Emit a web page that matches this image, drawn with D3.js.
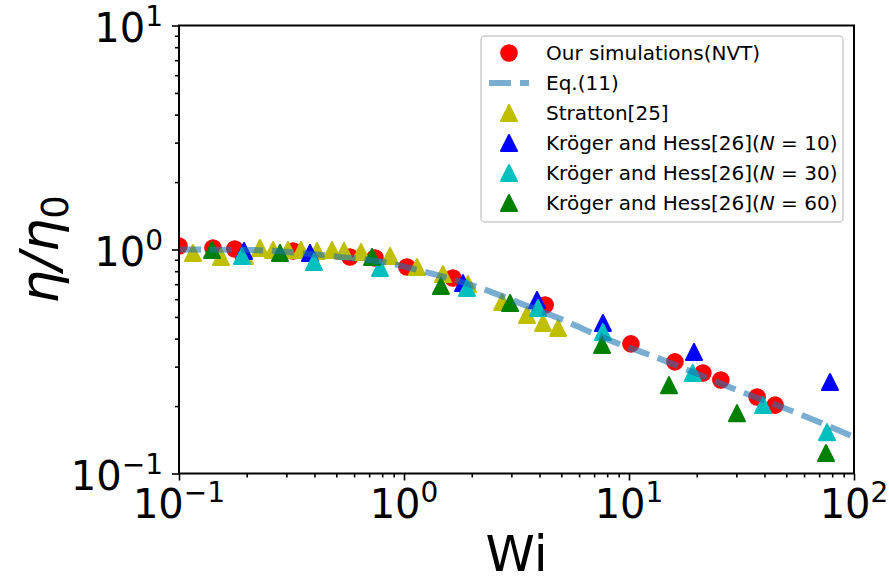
<!DOCTYPE html>
<html><head><meta charset="utf-8">
<script src="https://cdn.jsdelivr.net/npm/d3@7"></script>
<style>body{margin:0;background:#fff}svg{display:block}text{font-family:"DejaVu Sans",sans-serif}</style>
</head><body><svg id="c" width="889" height="583"></svg>
<script>
// ---- data ----
const simWi   = [0.1, 0.1416, 0.177, 0.321, 0.575, 0.743, 1.03, 1.65, 4.24, 10.2, 16.0, 21.3, 25.6, 37.1, 44.6];
const simEta  = [1.036, 1.016, 1.005, 0.985, 0.926, 0.917, 0.835, 0.746, 0.565, 0.379, 0.315, 0.281, 0.2615, 0.2197, 0.202];
const eqWi    = [0.1, 0.207, 0.345, 0.575, 0.807, 1.063, 1.40, 2.18, 3.63, 5.09, 6.71, 8.85, 12.4, 20.7, 31.1, 57.5, 100];
const eqEta   = [1.0, 0.995, 0.965, 0.917, 0.88, 0.827, 0.770, 0.673, 0.553, 0.485, 0.428, 0.382, 0.338, 0.275, 0.233, 0.184, 0.1455];
const strWi   = [0.1154, 0.1537, 0.1965, 0.229, 0.2618, 0.305, 0.3484, 0.4105, 0.4786, 0.541, 0.644, 0.867, 1.142, 1.49, 1.925, 2.73, 3.52, 4.15, 4.84];
const strEta  = [0.965, 0.926, 0.936, 1.016, 0.995, 0.995, 0.995, 0.985, 0.995, 0.985, 0.975, 0.936, 0.835, 0.777, 0.701, 0.583, 0.51, 0.47, 0.446];
const n10Wi   = [0.1945, 0.382, 1.829, 3.90, 7.66, 19.45, 78.2];
const n10Eta  = [0.985, 0.965, 0.708, 0.595, 0.47, 0.349, 0.256];
const n30Wi   = [0.1905, 0.398, 0.782, 1.905, 3.94, 7.66, 19.2, 39.4, 75.9];
const n30Eta  = [0.936, 0.88, 0.827, 0.673, 0.548, 0.428, 0.281, 0.202, 0.153];
const n60Wi   = [0.1402, 0.281, 0.721, 1.46, 2.96, 7.59, 15.06, 30.2, 75.1];
const n60Eta  = [0.995, 0.965, 0.926, 0.688, 0.577, 0.375, 0.248, 0.186, 0.1234];
const xMajor = [0.1, 1, 10, 100];
const xMajorExp = ["\u22121", "0", "1", "2"];
const yMajor = [0.1, 1, 10];
const yMajorExp = ["\u22121", "0", "1"];
const legendLabels = ["Our simulations(NVT)", "Eq.(11)", "Stratton[25]", "Kr\u00f6ger and Hess[26](", "Kr\u00f6ger and Hess[26](", "Kr\u00f6ger and Hess[26]("];
const legendN = [null, null, null, "10", "30", "60"];

// ---- layout ----
const L = 179, R = 854, T = 25.5, B = 473.5;
const svg = d3.select("#c");
const x = d3.scaleLog().domain([0.1, 100]).range([L, R]);
const y = d3.scaleLog().domain([0.1, 10]).range([B, T]);

const minorOf = dom => { const out = []; for (let e = Math.log10(dom[0]); e < Math.log10(dom[1]); e++) for (let k = 2; k <= 9; k++) out.push(k * Math.pow(10, e)); return out; };

// axes ticks
const gx = svg.append("g").attr("transform", `translate(0,${B})`);
gx.call(d3.axisBottom(x).tickValues(xMajor).tickSize(7).tickFormat(""));
gx.append("g").call(d3.axisBottom(x).tickValues(minorOf([0.1, 100])).tickSize(4).tickFormat(""));
const gy = svg.append("g").attr("transform", `translate(${L},0)`);
gy.call(d3.axisLeft(y).tickValues(yMajor).tickSize(7).tickFormat(""));
gy.append("g").call(d3.axisLeft(y).tickValues(minorOf([0.1, 10])).tickSize(4).tickFormat(""));
svg.selectAll(".domain").remove();
svg.selectAll(".tick line").attr("stroke", "#000").attr("stroke-width", 1.6);

// tick labels
xMajor.forEach((v, i) => {
  const t = svg.append("text").attr("x", x(v)).attr("y", 518).attr("text-anchor", "middle").attr("font-size", 40);
  t.append("tspan").text("10");
  t.append("tspan").attr("font-size", 28).attr("dy", -16).text(xMajorExp[i]);
});
yMajor.forEach((v, i) => {
  const t = svg.append("text").attr("x", 163).attr("y", y(v) + 16).attr("text-anchor", "end").attr("font-size", 40);
  t.append("tspan").text("10");
  t.append("tspan").attr("font-size", 28).attr("dy", -16).text(yMajorExp[i]);
});

// axis labels
svg.append("text").attr("x", (L + R) / 2).attr("y", 571).attr("text-anchor", "middle").attr("font-size", 50).text("Wi");
const yl = svg.append("text").attr("transform", `translate(58,${(T + B) / 2}) rotate(-90)`).attr("text-anchor", "middle").attr("font-size", 53);
yl.append("tspan").attr("font-style", "italic").text("\u03b7/\u03b7");
yl.append("tspan").attr("font-size", 37).attr("dy", 10).text("0");

// plot group with clip
svg.append("clipPath").attr("id", "clip").append("rect").attr("x", L).attr("y", T).attr("width", R - L).attr("height", B - T);
const g = svg.append("g").attr("clip-path", "url(#clip)");

const tri = d3.symbol().type({draw(ctx, s) { const h = 8; ctx.moveTo(0, -h); ctx.lineTo(h, h); ctx.lineTo(-h, h); ctx.closePath(); }})();

function circles(xs, ys, col) {
  g.selectAll(null).data(xs.map((v, i) => [v, ys[i]])).join("circle")
    .attr("cx", d => x(d[0])).attr("cy", d => y(d[1])).attr("r", 8.2)
    .attr("fill", col).attr("stroke", col).attr("stroke-width", 1.2);
}
function tris(xs, ys, col) {
  g.selectAll(null).data(xs.map((v, i) => [v, ys[i]])).join("path")
    .attr("transform", d => `translate(${x(d[0])},${y(d[1])})`).attr("d", tri)
    .attr("fill", col).attr("stroke", col).attr("stroke-width", 2).attr("stroke-linejoin", "round");
}
circles(simWi, simEta, "#ff0000");
tris(strWi, strEta, "#bfbf00");
tris(n10Wi, n10Eta, "#0000ff");
tris(n30Wi, n30Eta, "#00bfbf");
tris(n60Wi, n60Eta, "#008000");

const line = d3.line().x(d => x(d[0])).y(d => y(d[1])).curve(d3.curveMonotoneX);
g.append("path").datum(eqWi.map((v, i) => [v, eqEta[i]])).attr("d", line)
  .attr("fill", "none").attr("stroke", "#1f77b4").attr("stroke-opacity", 0.6)
  .attr("stroke-width", 6).attr("stroke-dasharray", "22,9");

// frame
svg.append("rect").attr("x", L).attr("y", T).attr("width", R - L).attr("height", B - T)
  .attr("fill", "none").attr("stroke", "#000").attr("stroke-width", 2);

// legend
const lg = svg.append("g");
lg.append("rect").attr("x", 481).attr("y", 36).attr("width", 362).attr("height", 186).attr("rx", 4)
  .attr("fill", "#fff").attr("fill-opacity", 0.8).attr("stroke", "#cccccc").attr("stroke-width", 1.5);
const rowY = i => 53 + i * 30;
const cols = ["#ff0000", null, "#bfbf00", "#0000ff", "#00bfbf", "#008000"];
legendLabels.forEach((lab, i) => {
  const cy = rowY(i);
  if (i === 0) lg.append("circle").attr("cx", 509).attr("cy", cy).attr("r", 8.2).attr("fill", cols[0]).attr("stroke", cols[0]).attr("stroke-width", 1.2);
  else if (i === 1) lg.append("line").attr("x1", 489).attr("x2", 529).attr("y1", cy).attr("y2", cy)
    .attr("stroke", "#1f77b4").attr("stroke-opacity", 0.6).attr("stroke-width", 6).attr("stroke-dasharray", "22,9");
  else lg.append("path").attr("transform", `translate(509,${cy})`).attr("d", tri).attr("fill", cols[i]).attr("stroke", cols[i]).attr("stroke-width", 2).attr("stroke-linejoin", "round");
  const t = lg.append("text").attr("x", 546).attr("y", cy + 7).attr("font-size", 20);
  t.append("tspan").text(lab);
  if (legendN[i]) {
    t.append("tspan").attr("font-style", "italic").text("N");
    t.append("tspan").text(" = " + legendN[i] + ")");
  }
});
</script></body></html>
